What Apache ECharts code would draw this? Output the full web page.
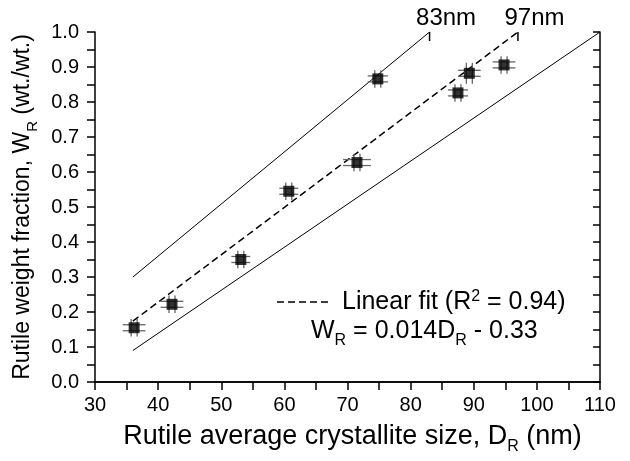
<!DOCTYPE html>
<html>
<head>
<meta charset="utf-8">
<script src="https://cdn.jsdelivr.net/npm/echarts@6/dist/echarts.min.js"></script>
<style>html,body{margin:0;padding:0;background:#fff}#c{width:630px;height:461px}</style>
</head>
<body>
<div id="c"></div>
<script>
// Data
const sizeNm   = [36.2, 42.2, 53.1, 60.7, 71.5, 74.8, 87.5, 89.3, 94.8];
const fraction = [0.155, 0.222, 0.350, 0.545, 0.627, 0.866, 0.826, 0.882, 0.906];
const xErr     = [1.8, 1.8, 1.5, 1.5, 2.2, 1.6, 1.6, 1.8, 1.8];
const yErr     = [0.025, 0.025, 0.025, 0.025, 0.025, 0.025, 0.025, 0.03, 0.025];
const fitLine   = [[36, 0.174], [97, 1.0]];
const upperLine = [[36, 0.30], [83, 1.0]];
const lowerLine = [[36, 0.09], [110, 1.0]];
const topTicks  = [83, 97];
const topTickLabels = ['83nm', '97nm'];
const xTicks = [30, 40, 50, 60, 70, 80, 90, 100, 110];
const yTicks = [0.0, 0.1, 0.2, 0.3, 0.4, 0.5, 0.6, 0.7, 0.8, 0.9, 1.0];

const FONT = 'Liberation Sans, Arial, sans-serif';
const chart = echarts.init(document.getElementById('c'), null, {renderer: 'canvas'});

const pts = sizeNm.map((x, i) => [x, fraction[i], xErr[i], yErr[i]]);

function subRich(size, subSize, lh) {
  return {
    a: {fontSize: size, fontFamily: FONT, color: '#000', fill: '#000', lineHeight: lh, verticalAlign: 'middle'},
    s: {fontSize: subSize, fontFamily: FONT, color: '#000', fill: '#000', lineHeight: subSize, verticalAlign: 'bottom'},
    p: {fontSize: subSize, fontFamily: FONT, color: '#000', fill: '#000', lineHeight: subSize, verticalAlign: 'top'}
  };
}

const option = {
  animation: false,
  backgroundColor: '#fff',
  grid: {left: 95, right: 30, top: 32, bottom: 79},
  xAxis: [{
    type: 'value', position: 'bottom', min: xTicks[0], max: xTicks[xTicks.length-1], interval: 10,
    axisLine: {lineStyle: {color: '#000', width: 1.5}},
    axisTick: {inside: false, length: 8, lineStyle: {color: '#000', width: 1.5}},
    minorTick: {show: true, splitNumber: 2, length: 8, lineStyle: {color: '#000', width: 1.5}},
    splitLine: {show: false},
    axisLabel: {color: '#000', fontSize: 20, fontFamily: FONT, margin: 13},
    name: '{a|Rutile average crystallite size, D}{s|R}{a| (nm)}',
    nameLocation: 'middle', nameGap: 37,
    nameTextStyle: {rich: subRich(27, 16, 36), padding: [0, 0, 0, 10]}
  }, {
    type: 'value', position: 'top', min: 30, max: 110,
    axisLine: {show: true, lineStyle: {color: '#000', width: 1.5}},
    axisTick: {show: false}, axisLabel: {show: false}, splitLine: {show: false}
  }],
  yAxis: [{
    type: 'value', position: 'left', min: 0, max: 1, interval: 0.1,
    axisLine: {show: true, lineStyle: {color: '#000', width: 1.5}},
    axisTick: {inside: false, length: 8, lineStyle: {color: '#000', width: 1.5}},
    minorTick: {show: true, splitNumber: 2, length: 8, lineStyle: {color: '#000', width: 1.5}},
    splitLine: {show: false},
    axisLabel: {color: '#000', fontSize: 20, fontFamily: FONT, margin: 16, formatter: v => v.toFixed(1)},
    name: '{a|Rutile weight fraction, W}{s|R}{a| (wt./wt.)}',
    nameLocation: 'middle', nameGap: 53, nameRotate: 90,
    nameTextStyle: {rich: subRich(23, 15, 36)}
  }, {
    type: 'value', position: 'right', min: 0, max: 1, interval: 0.1,
    axisLine: {show: true, lineStyle: {color: '#000', width: 1.5}},
    axisTick: {inside: true, length: 7, lineStyle: {color: '#000', width: 1.5}},
    minorTick: {show: true, splitNumber: 2, length: 7, lineStyle: {color: '#000', width: 1.5}},
    splitLine: {show: false}, axisLabel: {show: false}
  }],
  series: [
    {type: 'line', data: upperLine, symbol: 'none', lineStyle: {color: '#000', width: 1}, z: 2},
    {type: 'line', data: lowerLine, symbol: 'none', lineStyle: {color: '#000', width: 1}, z: 2},
    {type: 'line', data: fitLine, symbol: 'none', lineStyle: {color: '#000', width: 1.5, type: [7, 4]}, z: 2},
    {
      type: 'custom', z: 3,
      data: pts,
      renderItem: (params, api) => {
        const x = api.value(0), y = api.value(1), ex = api.value(2), ey = api.value(3);
        const c = api.coord([x, y]);
        const l = api.coord([x - ex, y]), r = api.coord([x + ex, y]);
        const t = api.coord([x, y + ey]), b = api.coord([x, y - ey]);
        const st = {stroke: '#666', lineWidth: 1.3};
        const ch = [];
        [-3, 3].forEach(o => {
          ch.push({type: 'line', shape: {x1: l[0], y1: c[1] + o, x2: r[0], y2: c[1] + o}, style: st});
          ch.push({type: 'line', shape: {x1: c[0] + o, y1: t[1], x2: c[0] + o, y2: b[1]}, style: st});
        });
        return {type: 'group', children: ch};
      }
    },
    {
      type: 'scatter', data: pts.map(p => [p[0], p[1]]), symbol: 'rect', symbolSize: 11,
      itemStyle: {color: '#000'}, z: 4
    },
    {
      type: 'custom', z: 5,
      data: topTicks.map((v, i) => [v, 1.0, i]),
      renderItem: (params, api) => {
        const c = api.coord([api.value(0), api.value(1)]);
        return {type: 'group', children: [
          {type: 'line', shape: {x1: c[0], y1: c[1], x2: c[0], y2: c[1] + 9}, style: {stroke: '#000', lineWidth: 1.5}},
          {type: 'text', x: c[0] - 13.5, y: c[1] - 2, style: {text: topTickLabels[api.value(2)], fontSize: 24, fontFamily: FONT, fill: '#000', align: 'left', verticalAlign: 'bottom'}}
        ]};
      },
      clip: false
    }
  ],
  graphic: [
    {type: 'line', shape: {x1: 277, y1: 302, x2: 331, y2: 302}, style: {stroke: '#000', lineWidth: 1.5, lineDash: [7, 4]}},
    {type: 'text', x: 342, y: 302, style: {
      text: '{a|Linear fit (R}{p|2}{a| = 0.94)}', align: 'left', verticalAlign: 'middle',
      rich: subRich(25, 16, 26)
    }},
    {type: 'text', x: 311, y: 331, style: {
      text: '{a|W}{s|R}{a| = 0.014D}{s|R}{a| - 0.33}', align: 'left', verticalAlign: 'middle',
      rich: subRich(25, 16, 36)
    }}
  ]
};
chart.setOption(option);
</script>
</body>
</html>
